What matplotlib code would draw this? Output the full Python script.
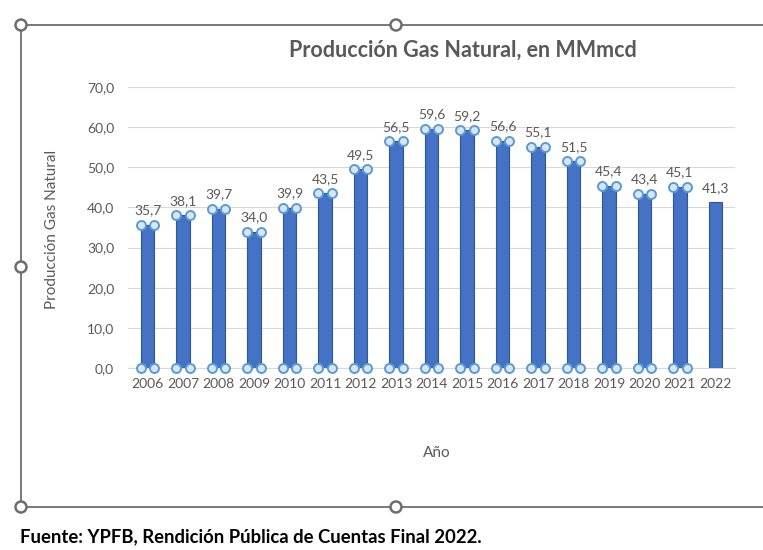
import numpy as np
import matplotlib
matplotlib.use("Agg")
import matplotlib.pyplot as plt
from matplotlib.lines import Line2D
from matplotlib.patches import Circle

# data
years = ["2006", "2007", "2008", "2009", "2010", "2011", "2012", "2013", "2014",
         "2015", "2016", "2017", "2018", "2019", "2020", "2021", "2022"]
produccion = [35.7, 38.1, 39.7, 34.0, 39.9, 43.5, 49.5, 56.5, 59.6,
              59.2, 56.6, 55.1, 51.5, 45.4, 43.4, 45.1, 41.3]

title = "Producción Gas Natural, en MMmcd"
ylabel = "Producción Gas Natural"
xlabel = "Año"
fuente = "Fuente: YPFB, Rendición Pública de Cuentas Final 2022."

plt.rcParams['font.family'] = ['Lato', 'DejaVu Sans']
grey = "#595959"
barcol = "#4472c4"

W, H = 763, 550
fig = plt.figure(figsize=(W / 100, H / 100), dpi=100)
fig.patch.set_facecolor("white")

ax = fig.add_axes([128 / W, 1 - 368 / H, (735 - 128) / W, (368 - 87) / H])

x = np.arange(len(years))
bw = 0.38
ax.bar(x, produccion, width=bw, color=barcol, edgecolor="#2f5597", linewidth=0.8, zorder=3)

# selection handles on the bars (all but the last one)
for i, v in enumerate(produccion[:-1]):
    xs = [x[i] - bw / 2, x[i] + bw / 2, x[i] - bw / 2, x[i] + bw / 2]
    ys = [v, v, 0, 0]
    ax.scatter(xs, ys, s=42, facecolor="#d6e6f5", edgecolor="#5b9bd5",
               linewidth=1.4, zorder=4, clip_on=False)

for i, v in enumerate(produccion):
    ax.annotate(f"{v:.1f}".replace(".", ","), (x[i], v), xytext=(0, 6),
                textcoords="offset points", ha="center", va="bottom",
                fontsize=10, color=grey)

ax.set_ylim(0, 70)
ax.set_xlim(-0.55, len(years) - 0.45)
ax.set_yticks(np.arange(0, 71, 10))
ax.set_yticklabels([f"{t:.1f}".replace(".", ",") for t in np.arange(0, 71, 10)])
ax.set_xticks(x)
ax.set_xticklabels(years)
ax.tick_params(axis="both", length=0, labelsize=10, labelcolor=grey)
ax.tick_params(axis="y", pad=10)
ax.tick_params(axis="x", pad=7)
ax.grid(axis="y", color="#d9d9d9", linewidth=0.8, zorder=0)
for s in ["top", "right", "left"]:
    ax.spines[s].set_visible(False)
ax.spines["bottom"].set_color("#d9d9d9")

fig.text(463 / W, 1 - 50 / H, title, ha="center", va="center",
         fontsize=15.5, fontweight="bold", color=grey)
fig.text(52 / W, 1 - 229 / H, ylabel, ha="center", va="center", rotation=90,
         fontsize=11, color=grey)
fig.text(437 / W, 1 - 453 / H, xlabel, ha="center", va="center",
         fontsize=11, color=grey)
fig.text(20 / W, 1 - 537 / H, fuente, ha="left", va="center",
         fontsize=13.3, fontweight="bold", color="black")

# chart frame with handles
fx0, fx1 = 21 / W, 1.02
fy0, fy1 = 1 - 507 / H, 1 - 25 / H
frame_col = "#6d6d6d"
fig.add_artist(Line2D([fx0, fx1], [fy1, fy1], color=frame_col, lw=1.3))
fig.add_artist(Line2D([fx0, fx1], [fy0, fy0], color=frame_col, lw=1.3))
fig.add_artist(Line2D([fx0, fx0], [fy0, fy1], color=frame_col, lw=1.3))
handles = [(21, 25), (396, 25), (21, 267), (21, 507), (396, 507)]
for hx, hy in handles:
    fig.add_artist(Circle((hx, H - hy), 5.5, transform=None, facecolor="white",
                          edgecolor=frame_col, lw=1.8, zorder=10))

fig.savefig("out.png", dpi=100)
